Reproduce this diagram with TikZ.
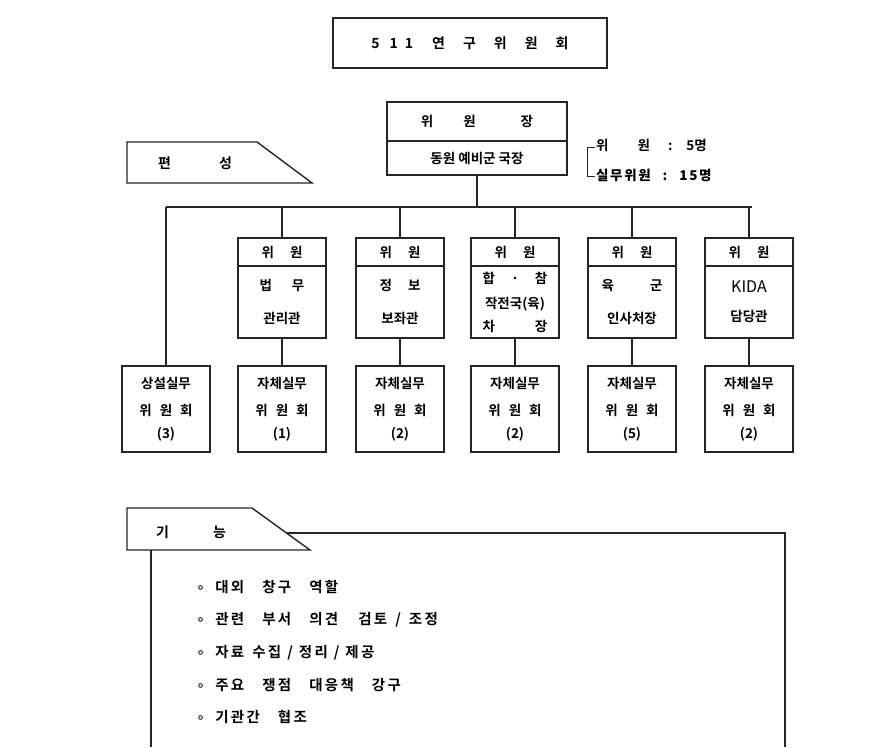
\documentclass[tikz,border=0pt]{standalone}
\usepackage{fontspec}
\setmainfont{Noto Sans CJK KR}[BoldFont={Noto Sans CJK KR Bold}]
\newfontfamily\symf{DejaVu Sans}
\newfontfamily\wide{Noto Sans CJK KR Bold}[LetterSpace=12]
\newfontfamily\wider{Noto Sans CJK KR Bold}[LetterSpace=16]
\begin{document}
\begin{tikzpicture}[x=1pt,y=-1pt,
  ln/.style={line width=1.4pt, black!85},
  bx/.style={draw=black!85, line width=1.4pt, minimum width=88pt, inner sep=0pt, font=\fontsize{13.5}{15}\bfseries\selectfont},
  hd/.style={bx, minimum height=28pt},
  bd/.style={bx, minimum height=72pt},
  lo/.style={bx, minimum height=86pt, align=center},
  tx/.style={inner sep=0pt, font=\fontsize{13.5}{15}\bfseries\selectfont},
  it/.style={inner sep=0pt, font=\fontsize{14.5}{16}\wider}]
\useasboundingbox (0,0) rectangle (885,747);
\fill[white] (0,0) rectangle (885,747);

% title
\node[draw=black!85, line width=1.4pt, minimum width=274pt, minimum height=50pt, inner sep=0pt, font=\fontsize{14}{16}\bfseries\selectfont] (title) at (470,43) {5\hspace{10pt}1\hspace{7pt}1\hspace{19pt}연\hspace{18pt}구\hspace{18pt}위\hspace{18pt}원\hspace{18pt}회};

% chairman
\node[bx, minimum width=180pt, minimum height=39pt] (chh) at (477,121.5) {위\hspace{30pt}원\hspace{45pt}장};
\node[bx, minimum width=180pt, minimum height=34pt] (chb) at (477,158) {동원 예비군 국장};

% legend bracket
\coordinate (lgt) at (595,147);
\coordinate (lgb) at (595,176);
\draw[ln, line width=1pt] (lgt) -- (587,147) -- (587,176) -- (lgb);
\node[tx, anchor=west] (lg1) at (596,145) {위\hspace{29pt}원\hspace{18pt}:\hspace{14pt}5명};
\node[tx, anchor=west] (lg2) at (596,175) {\wide 실무위원\hspace{12pt}:\hspace{12pt}15명};

% 편성 tab
\coordinate (t1a) at (127,142);
\coordinate (t1b) at (257,142);
\coordinate (t1c) at (312,183);
\coordinate (t1d) at (127,183);
\draw[ln] (t1a) -- (t1b) -- (t1c) -- (t1d) -- cycle;
\node[tx, font=\fontsize{14}{16}\bfseries\selectfont] (pyeon) at (195,163) {편\hspace{48pt}성};

% bus
\coordinate (bus) at (477,207);
\coordinate (busL) at (166,207);
\coordinate (busR) at (752,207);
\draw[ln] (chb.south) -- (bus);
\draw[ln] (busL) -- (busR);

% row 2
\node[hd] (h1) at (282,252) {위\hspace{16pt}원};
\node[bd, align=center] (b1) at (282,302) {법\hspace{20pt}무\\[18pt]관리관};
\node[hd] (h2) at (400,252) {위\hspace{16pt}원};
\node[bd, align=center] (b2) at (400,302) {정\hspace{16pt}보\\[18pt]보좌관};
\node[hd] (h3) at (515,252) {위\hspace{16pt}원};
\node[bd, align=center] (b3) at (515,302) {합\hspace{16pt}·\hspace{16pt}참\\[10pt]작전국(육)\\[8pt]차\hspace{40pt}장};
\node[hd] (h4) at (632,252) {위\hspace{16pt}원};
\node[bd, align=center] (b4) at (632,302) {육\hspace{36pt}군\\[18pt]인사처장};
\node[hd] (h5) at (749,252) {위\hspace{16pt}원};
\node[bd, align=center] (b5) at (749,302) {{\fontsize{16}{18}\mdseries\selectfont KIDA}\\[14pt]담당관};

% row 3
\node[lo] (c0) at (166,409) {상설실무\\[12pt]위\hspace{8pt}원\hspace{8pt}회\\[8pt](3)};
\node[lo] (c1) at (282,409) {자체실무\\[12pt]위\hspace{8pt}원\hspace{8pt}회\\[8pt](1)};
\node[lo] (c2) at (400,409) {자체실무\\[12pt]위\hspace{8pt}원\hspace{8pt}회\\[8pt](2)};
\node[lo] (c3) at (515,409) {자체실무\\[12pt]위\hspace{8pt}원\hspace{8pt}회\\[8pt](2)};
\node[lo] (c4) at (632,409) {자체실무\\[12pt]위\hspace{8pt}원\hspace{8pt}회\\[8pt](5)};
\node[lo] (c5) at (749,409) {자체실무\\[12pt]위\hspace{8pt}원\hspace{8pt}회\\[8pt](2)};

% connectors
\draw[ln] (busL) -- (c0.north);
\foreach \i in {1,...,5}{
  \draw[ln] (h\i.north |- bus) -- (h\i.north);
  \draw[ln] (b\i.south) -- (c\i.north);
}

% 기능 tab and box
\coordinate (t2a) at (127,508);
\coordinate (t2b) at (252,508);
\coordinate (t2c) at (310,550);
\coordinate (t2d) at (127,550);
\coordinate (t2m) at (286.5,533);
\coordinate (fbTR) at (785,533);
\coordinate (fbBR) at (785,747);
\coordinate (fbTL) at (151,550);
\coordinate (fbBL) at (151,747);
\draw[ln] (t2a) -- (t2b) -- (t2c) -- (t2d) -- cycle;
\draw[ln] (t2m) -- (fbTR) -- (fbBR);
\draw[ln] (fbTL) -- (fbBL);
\node[tx, font=\fontsize{14}{16}\bfseries\selectfont] (gineung) at (191,532) {기\hspace{44pt}능};

\foreach \y/\t [count=\k] in {587/{대외\hspace{18pt}창구\hspace{18pt}역할},
  620/{관련\hspace{18pt}부서\hspace{18pt}의견\hspace{20pt}검토\hspace{8pt}/\hspace{8pt}조정},
  653/{자료\hspace{8pt}수집\hspace{6pt}/\hspace{6pt}정리\hspace{6pt}/\hspace{6pt}제공},
  685/{주요\hspace{18pt}쟁점\hspace{18pt}대응책\hspace{18pt}강구},
  717/{기관간\hspace{18pt}협조}}{
  \node[it, anchor=west] (f\k) at (196,\y) {{\symf\mdseries ∘}\hspace{10pt}\t};
}
\end{tikzpicture}
\end{document}
